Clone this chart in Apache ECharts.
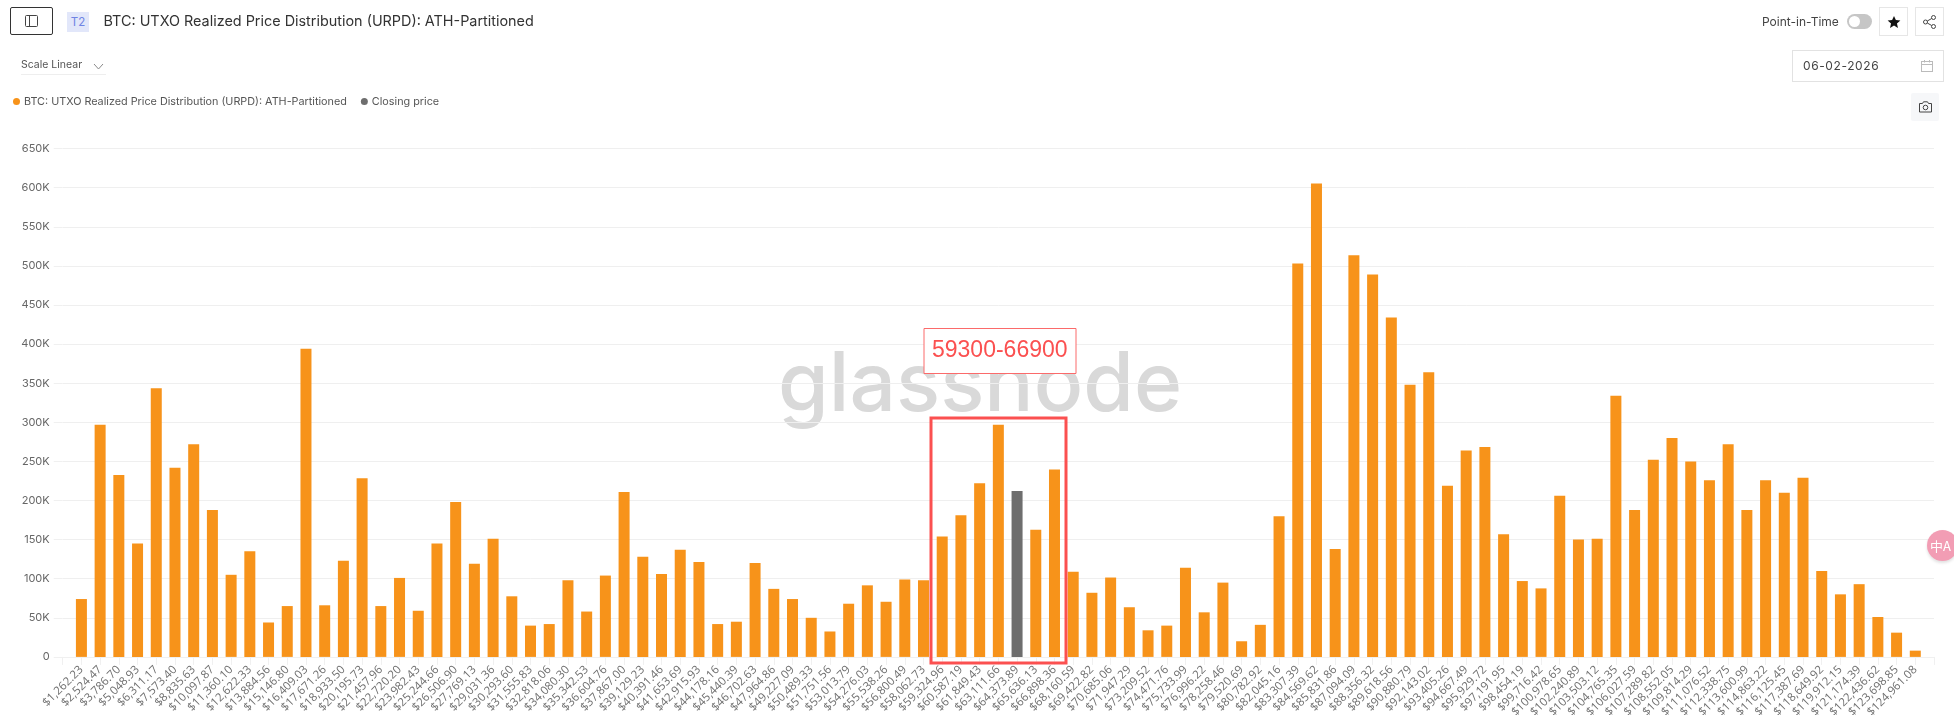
<!DOCTYPE html>
<html>
<head>
<meta charset="utf-8">
<script src="https://cdn.jsdelivr.net/npm/echarts@6/dist/echarts.min.js"></script>
<style>
html,body{margin:0;padding:0;background:#fff;width:1954px;height:725px;overflow:hidden;font-family:Inter,"Noto Sans",sans-serif;}
#chart{position:absolute;left:0;top:0;width:1954px;height:725px;}
.ui{position:absolute;box-sizing:border-box;z-index:5;}
.txt{white-space:nowrap;line-height:1;}
.icon{display:flex;align-items:center;justify-content:center;}
</style>
</head>
<body>
<div id="chart"></div>

<div class="ui icon" style="left:10px;top:7px;width:43px;height:28px;border:1px solid #333;border-radius:2px;">
<svg width="13" height="12" viewBox="0 0 13 12" fill="none" stroke="#444" stroke-width="1"><rect x="0.5" y="0.5" width="12" height="11" rx="1"/><line x1="4.5" y1="0.5" x2="4.5" y2="11.5"/></svg></div>
<div class="ui icon" style="left:67px;top:12px;width:22px;height:20px;background:#e2e7fa;color:#6f84e4;font-size:11.5px;">T2</div>
<div class="ui txt" style="left:103.5px;top:14px;font-size:14.4px;color:#333;">BTC: UTXO Realized Price Distribution (URPD): ATH-Partitioned</div>
<div class="ui txt" style="left:21px;top:60px;font-size:10.5px;color:#555;">Scale Linear</div>
<svg class="ui" style="left:93px;top:63px;" width="11" height="7" viewBox="0 0 11 7" fill="none" stroke="#888"><path d="M1 1 L5.5 6 L10 1"/></svg>
<div class="ui" style="left:21px;top:74px;width:85px;height:1px;background:#eee;"></div>

<div class="ui txt" style="left:1762px;top:16px;font-size:12px;color:#444;">Point-in-Time</div>
<div class="ui" style="left:1847px;top:14px;width:25px;height:15px;border-radius:8px;background:#c6c6c6;"></div>
<div class="ui" style="left:1849px;top:16px;width:11px;height:11px;border-radius:6px;background:#fff;"></div>
<div class="ui icon" style="left:1879px;top:7px;width:29px;height:29px;border:1px solid #e6e6e6;">
<svg width="14" height="14" viewBox="0 0 24 24" fill="#111"><path d="M12 1.5l3.2 7.1 7.7.8-5.8 5.1 1.7 7.6L12 18.2l-6.8 3.9 1.7-7.6L1.1 9.4l7.7-.8z"/></svg></div>
<div class="ui icon" style="left:1915px;top:7px;width:29px;height:29px;border:1px solid #e6e6e6;">
<svg width="13" height="14" viewBox="0 0 13 14" fill="none" stroke="#444"><circle cx="2.5" cy="7" r="2"/><circle cx="10.5" cy="2.5" r="2"/><circle cx="10.5" cy="11.5" r="2"/><path d="M4.3 6L8.7 3.5M4.3 8L8.7 10.5"/></svg></div>
<div class="ui" style="left:1792px;top:50px;width:152px;height:32px;border:1px solid #e2e2e2;"></div>
<div class="ui txt" style="left:1803px;top:60px;font-size:12px;letter-spacing:0.6px;color:#444;">06-02-2026</div>
<svg class="ui" style="left:1921px;top:60px;" width="12" height="12" viewBox="0 0 12 12" fill="none" stroke="#bbb"><rect x="0.5" y="1.5" width="11" height="10"/><path d="M0.5 4.5H11.5M3.5 0V2.5M8.5 0V2.5"/></svg>
<div class="ui icon" style="left:1911px;top:93px;width:28px;height:28px;background:#f6f7f9;border-radius:2px;">
<svg width="13" height="12" viewBox="0 0 13 12" fill="none" stroke="#444"><path d="M0.5 2.5H3.5L4.5 0.8H8.5L9.5 2.5H12.5V11H0.5Z"/><circle cx="6.5" cy="6.5" r="2.3"/></svg></div>

<div class="ui icon" style="left:1927px;top:530px;width:31px;height:31px;border-radius:16px;background:#f29db4;box-shadow:0 2px 3px rgba(0,0,0,.12);color:#fff;font-size:13px;font-family:'Noto Sans CJK SC';line-height:1;padding-right:4px;white-space:nowrap;">中A</div>

<script>
const priceBuckets = ["$1,262.23","$2,524.47","$3,786.70","$5,048.93","$6,311.17","$7,573.40","$8,835.63","$10,097.87","$11,360.10","$12,622.33","$13,884.56","$15,146.80","$16,409.03","$17,671.26","$18,933.50","$20,195.73","$21,457.96","$22,720.20","$23,982.43","$25,244.66","$26,506.90","$27,769.13","$29,031.36","$30,293.60","$31,555.83","$32,818.06","$34,080.30","$35,342.53","$36,604.76","$37,867.00","$39,129.23","$40,391.46","$41,653.69","$42,915.93","$44,178.16","$45,440.39","$46,702.63","$47,964.86","$49,227.09","$50,489.33","$51,751.56","$53,013.79","$54,276.03","$55,538.26","$56,800.49","$58,062.73","$59,324.96","$60,587.19","$61,849.43","$63,111.66","$64,373.89","$65,636.13","$66,898.36","$68,160.59","$69,422.82","$70,685.06","$71,947.29","$73,209.52","$74,471.76","$75,733.99","$76,996.22","$78,258.46","$79,520.69","$80,782.92","$82,045.16","$83,307.39","$84,569.62","$85,831.86","$87,094.09","$88,356.32","$89,618.56","$90,880.79","$92,143.02","$93,405.26","$94,667.49","$95,929.72","$97,191.95","$98,454.19","$99,716.42","$100,978.65","$102,240.89","$103,503.12","$104,765.35","$106,027.59","$107,289.82","$108,552.05","$109,814.29","$111,076.52","$112,338.75","$113,600.99","$114,863.22","$116,125.45","$117,387.69","$118,649.92","$119,912.15","$121,174.39","$122,436.62","$123,698.85","$124,961.08"];
const urpdValues = [74000,297000,232500,145000,343500,242000,272000,188000,105000,135000,44000,65000,394000,66000,123000,228500,65000,101000,59000,145000,198000,119000,151000,77500,40000,42000,98000,58000,104000,211000,128000,106000,137000,121500,42000,45000,120000,87000,74000,50000,32500,68000,91500,70500,99000,98000,154000,181000,222000,297000,null,162500,239500,109000,82000,101500,63500,34000,40000,114000,57000,95000,20000,41000,180000,503000,605500,138000,513500,489000,434000,348000,364000,219000,264000,268500,157000,97000,87600,206000,150000,151000,334000,188000,252000,280000,250000,226000,272000,188000,226000,210000,229000,110000,80000,93000,51000,31000,8000];
const closingBucket = "$64,373.89";
const closingValue = 212000;
const yTicks = {min:0,max:650000,interval:50000};
const annotationText = "59300-66900";
const watermarkText = "glassnode";
const seriesNames = ["BTC: UTXO Realized Price Distribution (URPD): ATH-Partitioned","Closing price"];

// the axis runs edge to edge with one blank slot at either end
const categories = ["",...priceBuckets,""];
const urpdData = [null,...urpdValues,null];
const closingData = categories.map(c => c===closingBucket ? closingValue : null);

const chart = echarts.init(document.getElementById('chart'),null,{renderer:'canvas'});
chart.setOption({
  animation:false,
  textStyle:{fontFamily:'Inter'},
  color:['#f7931a','#6e6e6e'],
  legend:{
    left:8,top:91,icon:'circle',itemWidth:7,itemHeight:7,itemGap:14,selectedMode:false,
    textStyle:{fontSize:10.8,color:'#555',fontFamily:'Inter',padding:[0,0,0,-1]},
    data:seriesNames
  },
  grid:{left:62.7,right:20,top:148.6,bottom:68.1,containLabel:false},
  xAxis:{
    type:'category',data:categories,boundaryGap:false,
    axisLine:{lineStyle:{color:'#f0f0f0'}},
    axisTick:{show:true,length:8,interval:0,lineStyle:{color:'#f0f0f0'}},
    axisLabel:{rotate:45,interval:0,fontSize:11.5,color:'#6e6e6e',margin:11,fontFamily:'Open Sans',hideOverlap:false},
    splitLine:{show:false}
  },
  yAxis:{
    type:'value',min:yTicks.min,max:yTicks.max,interval:yTicks.interval,
    axisLine:{show:false},
    axisTick:{show:true,length:9,lineStyle:{color:'#f0f0f0'}},
    splitLine:{show:true,lineStyle:{color:'#efefef',width:1}},
    axisLabel:{fontSize:11,color:'#666',margin:13,fontFamily:'Inter',
      formatter:v=>v===0?'0':(v/1000)+'K'}
  },
  series:[
    {name:seriesNames[0],type:'bar',data:urpdData,barWidth:11,barGap:'-100%',itemStyle:{color:'#f7931a'}},
    {name:seriesNames[1],type:'bar',data:closingData,barWidth:11,barGap:'-100%',itemStyle:{color:'#6e6e6e'}}
  ],
  graphic:[
    {type:'text',z:-1,silent:true,left:778,top:345,
      style:{text:watermarkText,fontFamily:'Inter',fontWeight:500,fontSize:82,fill:'#d9d9d9'}},
    {type:'rect',z:100,silent:true,shape:{x:931,y:418,width:135,height:245},
      style:{fill:'none',stroke:'#fb5050',lineWidth:3}},
    {type:'rect',z:100,silent:true,shape:{x:924,y:328.5,width:152,height:45},
      style:{fill:'#fff',stroke:'#fb6a6a',lineWidth:1}},
    {type:'text',z:101,silent:true,left:932,top:339,
      style:{text:annotationText,fontFamily:'Liberation Sans',fontSize:23,fill:'#fb5050'}}
  ]
});
</script>
</body>
</html>
